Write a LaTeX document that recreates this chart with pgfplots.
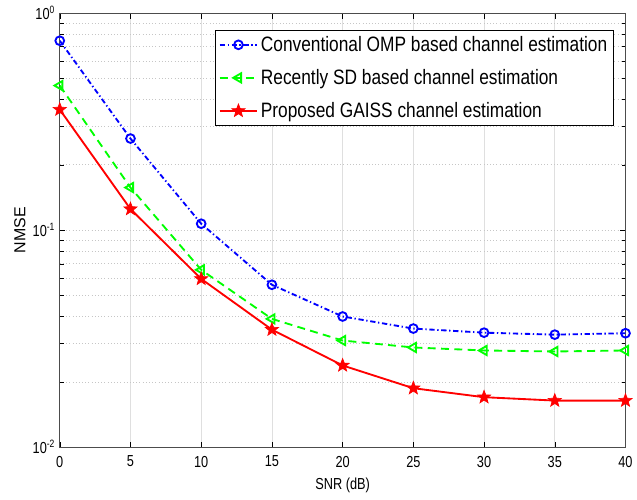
\documentclass[border=0pt]{standalone}
\usepackage{pgfplots}
\pgfplotsset{compat=1.18}
\usepackage{fontspec}
\setmainfont{Liberation Sans}[FakeStretch=0.8]
\newfontfamily\plainfont{Liberation Sans}
\newfontfamily\legfont{Liberation Sans}[FakeStretch=0.83]
\pgfdeclareplotmark{fstar}{%
  \pgfpathmoveto{\pgfqpointpolar{90}{\pgfplotmarksize}}%
  \pgfpathlineto{\pgfqpointpolar{126}{0.42\pgfplotmarksize}}%
  \pgfpathlineto{\pgfqpointpolar{162}{\pgfplotmarksize}}%
  \pgfpathlineto{\pgfqpointpolar{198}{0.42\pgfplotmarksize}}%
  \pgfpathlineto{\pgfqpointpolar{234}{\pgfplotmarksize}}%
  \pgfpathlineto{\pgfqpointpolar{270}{0.42\pgfplotmarksize}}%
  \pgfpathlineto{\pgfqpointpolar{306}{\pgfplotmarksize}}%
  \pgfpathlineto{\pgfqpointpolar{342}{0.42\pgfplotmarksize}}%
  \pgfpathlineto{\pgfqpointpolar{18}{\pgfplotmarksize}}%
  \pgfpathlineto{\pgfqpointpolar{54}{0.42\pgfplotmarksize}}%
  \pgfpathclose
  \pgfusepathqfillstroke}
\begin{document}
\begin{tikzpicture}
\begin{axis}[
  scale only axis,
  width=426pt, height=327pt,
  ymode=log,
  xmin=0, xmax=40, ymin=1e-2, ymax=1,
  xtick={0,5,...,40},
  xticklabels={0,5,10,15,20,25,30,35,40},
  ytick={1e-2,1e-1,1},
  yticklabels={10\textsuperscript{-2},10\textsuperscript{-1},10\textsuperscript{0}},
  grid=both,
  major x grid style={gray!25, line width=0.5pt},
  major y grid style={gray!45, dotted},
  minor grid style={gray!45, dotted},
  tick align=inside,
  axis line style={gray!60!black},
  tick style={black},
  xlabel={SNR (dB)},
  ylabel={\plainfont NMSE},
  ylabel style={at={(axis description cs:-0.0704,0.5)}, anchor=center, font=\fontsize{12.5}{13}\selectfont},
  xlabel style={at={(axis description cs:0.5,-0.0887)}, anchor=center},
  tick label style={font=\fontsize{12}{13}\selectfont},
  xticklabel style={yshift=-3pt},
  label style={font=\fontsize{12}{13}\selectfont},
  legend style={at={(0.979,0.961)}, anchor=north east, draw=black, line width=0.6pt,
    font=\legfont\fontsize{15.7}{18}\selectfont, inner sep=2.5pt, row sep=8pt},
  legend cell align=left,
  legend image code/.code={\draw[mark repeat=2,mark phase=2] plot coordinates {(0cm,0cm)(0.5cm,0cm)(1cm,0cm)};},
]
\addplot[blue, line width=1.4pt, dash pattern=on 4pt off 2pt on 1pt off 2pt, mark=o, mark size=3.3pt, mark options={solid}]
  coordinates {(0,0.745)(5,0.264)(10,0.107)(15,0.056)(20,0.040)(25,0.0352)(30,0.0337)(35,0.0330)(40,0.0335)};
\addplot[green, line width=1.4pt, dash pattern=on 6pt off 4pt, mark=triangle, mark size=4pt, mark options={solid, rotate=90}]
  coordinates {(0,0.463)(5,0.157)(10,0.0656)(15,0.039)(20,0.031)(25,0.0288)(30,0.0279)(35,0.0276)(40,0.0279)};
\addplot[red, line width=1.4pt, mark=fstar, mark size=5.2pt, mark options={solid, fill=red, line width=0.5pt}]
  coordinates {(0,0.359)(5,0.125)(10,0.0596)(15,0.0348)(20,0.0238)(25,0.0187)(30,0.0170)(35,0.0164)(40,0.0164)};
\legend{Conventional OMP based channel estimation, Recently SD based channel estimation, Proposed GAISS channel estimation}
\end{axis}
\path (current axis.south west) ++(-45pt,-39pt) (current axis.north east) ++(6.75pt,9.75pt);
\end{tikzpicture}
\end{document}
